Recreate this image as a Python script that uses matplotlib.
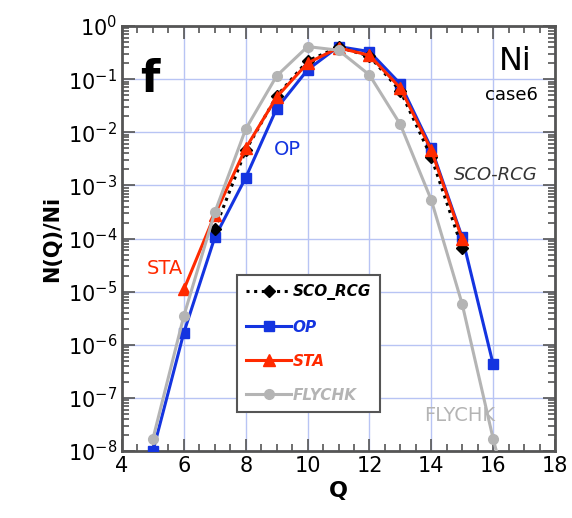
import numpy as np
import matplotlib.pyplot as plt
from matplotlib.ticker import MultipleLocator, LogLocator, NullFormatter

# charge state distributions, Ni case6
q_sco = [7, 8, 9, 10, 11, 12, 13, 14, 15]
n_sco = [1.5e-4, 4.6e-3, 0.048, 0.22, 0.40, 0.27, 0.060, 3.4e-3, 6.6e-5]

q_op = [5, 6, 7, 8, 9, 10, 11, 12, 13, 14, 15, 16]
n_op = [1.0e-8, 1.7e-6, 1.05e-4, 1.4e-3, 0.028, 0.15, 0.41, 0.33, 0.081, 5.0e-3, 1.05e-4, 4.3e-7]

q_sta = [6, 7, 8, 9, 10, 11, 12, 13, 14, 15]
n_sta = [1.1e-5, 2.8e-4, 5.0e-3, 0.046, 0.20, 0.39, 0.28, 0.068, 4.6e-3, 9.8e-5]

q_fly = [5, 6, 7, 8, 9, 10, 11, 12, 13, 14, 15, 16, 17]
n_fly = [1.7e-8, 3.5e-6, 3.1e-4, 0.0115, 0.115, 0.41, 0.35, 0.12, 0.014, 5.3e-4, 5.8e-6, 1.7e-8, 1e-10]

blue = "#1434e0"
red = "#ff2a00"
gray = "#b4b4b4"
frame = "#555555"

plt.rcParams["font.family"] = "DejaVu Sans"

fig = plt.figure(figsize=(5.72, 5.18), dpi=100)
ax = fig.add_axes([0.2133, 0.1293, 0.757, 0.8205])

ax.plot(q_sco, n_sco, color="black", ls=(0, (1, 1.5)), lw=2.2, marker="D", ms=6.5,
        label="SCO_RCG", zorder=4)
ax.plot(q_op, n_op, color=blue, lw=2.2, marker="s", ms=7, label="OP", zorder=3)
ax.plot(q_sta, n_sta, color=red, lw=2.2, marker="^", ms=8, label="STA", zorder=5)
ax.plot(q_fly, n_fly, color=gray, lw=2.2, marker="o", ms=7, label="FLYCHK", zorder=6)

ax.set_yscale("log")
ax.set_xlim(4, 18)
ax.set_ylim(1e-8, 1)

ax.xaxis.set_major_locator(MultipleLocator(2))
ax.xaxis.set_minor_locator(MultipleLocator(0.5))
ax.yaxis.set_major_locator(LogLocator(base=10, numticks=20))
ax.yaxis.set_minor_locator(LogLocator(base=10, subs=np.arange(2, 10), numticks=20))
ax.yaxis.set_minor_formatter(NullFormatter())

ax.grid(True, which="major", color="#b8c4f4", lw=1)
ax.set_axisbelow(True)
ax.tick_params(which="both", direction="in", top=True, right=True, colors=frame,
               labelcolor="black", labelsize=15)
ax.tick_params(which="major", length=9, width=1.2)
ax.tick_params(which="minor", length=5, width=1.2)
for s in ax.spines.values():
    s.set_color(frame)
    s.set_linewidth(2)

ax.set_xlabel("Q", fontsize=16, fontweight="bold")
ax.set_ylabel("N(Q)/Ni", fontsize=15, fontweight="bold")

ax.text(4.9, 10**-1.0, "f", fontsize=32, fontweight="bold", ha="center", va="center")
ax.text(16.7, 10**-0.66, "Ni", fontsize=23, ha="center", va="center")
ax.text(16.6, 10**-1.3, "case6", fontsize=13, ha="center", va="center")
ax.text(9.35, 10**-2.33, "OP", fontsize=14, color=blue, ha="center", va="center")
ax.text(16.1, 10**-2.8, "SCO-RCG", fontsize=13, color="#333333", style="italic",
        ha="center", va="center")
ax.text(5.4, 10**-4.56, "STA", fontsize=14, color=red, ha="center", va="center")
ax.text(14.9, 10**-7.33, "FLYCHK", fontsize=14, color=gray, ha="center", va="center")

# legend order as in the source plot
h, l = ax.get_legend_handles_labels()
leg = ax.legend(h, l, loc="lower left", bbox_to_anchor=(0.266, 0.092), borderaxespad=0,
                fancybox=False, framealpha=1, edgecolor=frame, handlelength=2.9,
                handletextpad=0.15, labelspacing=1.25, borderpad=0.6,
                prop={"weight": "bold", "style": "italic", "size": 11})
leg.get_frame().set_linewidth(1.5)
leg.set_zorder(10)
for txt, c in zip(leg.get_texts(), ["black", blue, red, gray]):
    txt.set_color(c)

fig.savefig("out.png", dpi=100)
